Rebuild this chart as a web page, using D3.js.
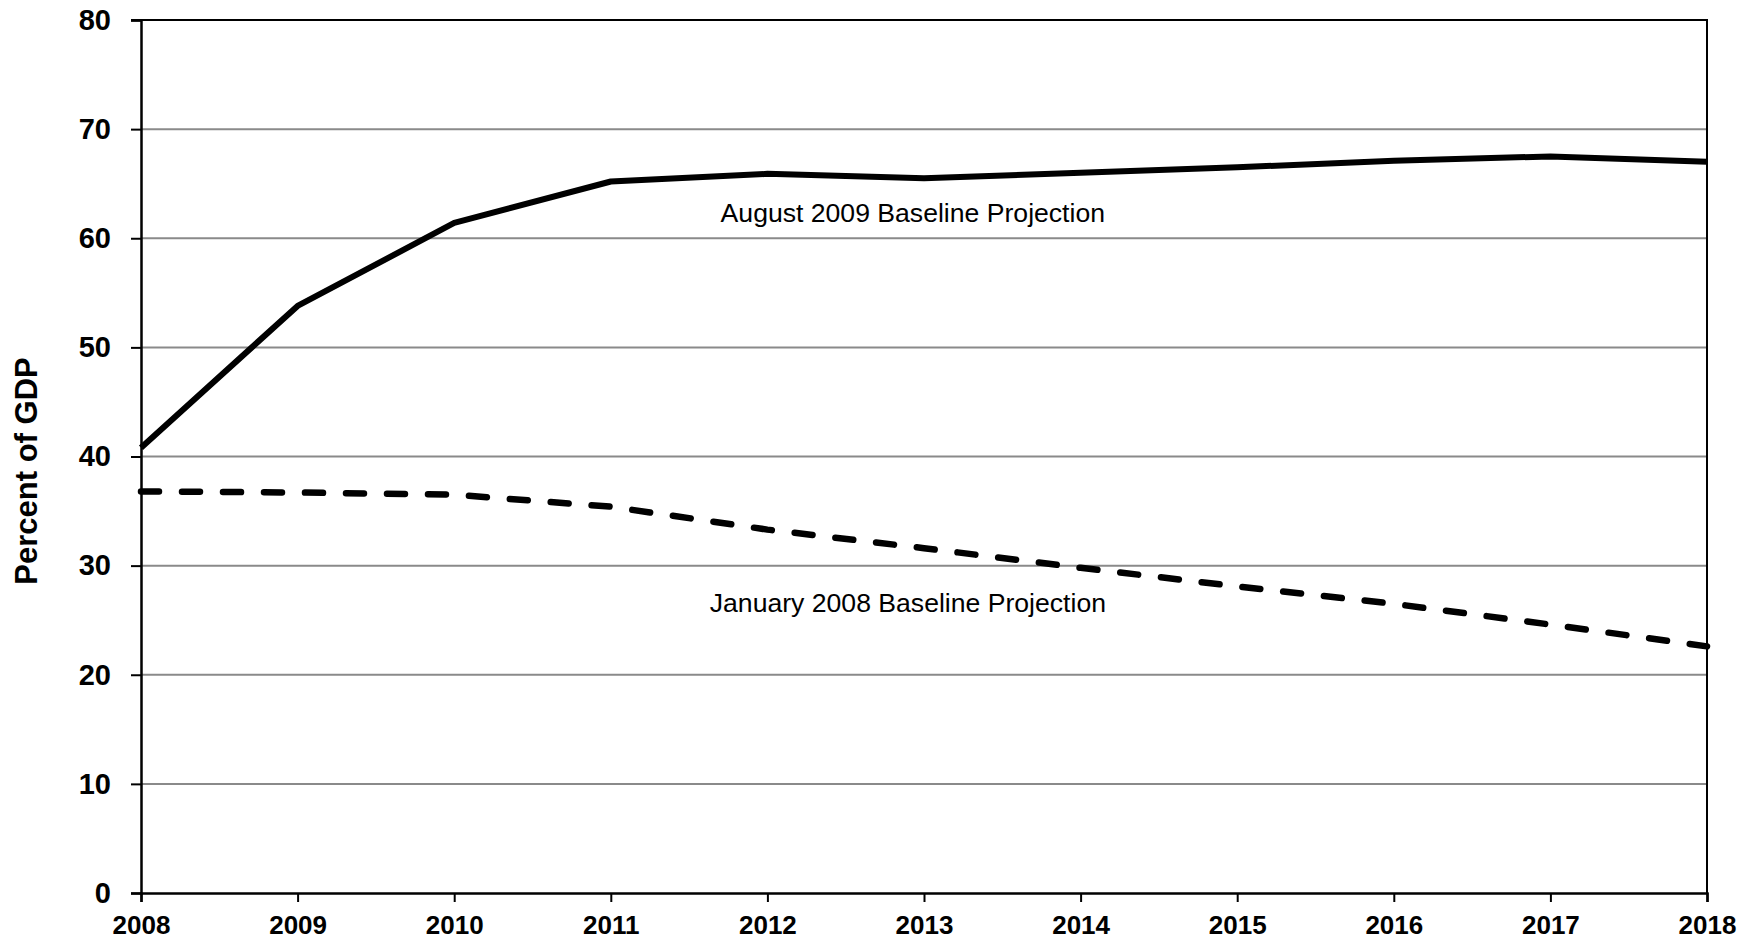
<!DOCTYPE html>
<html>
<head>
<meta charset="utf-8">
<script src="https://cdn.jsdelivr.net/npm/d3@7"></script>
<style>
  html, body { margin: 0; padding: 0; background: #fff; }
  svg { display: block; }
</style>
</head>
<body>
<svg id="chart" width="1754" height="941"></svg>
<script>
const years = [2008, 2009, 2010, 2011, 2012, 2013, 2014, 2015, 2016, 2017, 2018];
const august2009 = [40.8, 53.8, 61.4, 65.2, 65.9, 65.5, 66.0, 66.5, 67.1, 67.5, 67.0];
const january2008 = [36.8, 36.7, 36.5, 35.4, 33.3, 31.6, 29.8, 28.1, 26.5, 24.6, 22.6];
const yTicks = [0, 10, 20, 30, 40, 50, 60, 70, 80];
const yTitle = "Percent of GDP";
const labelAugust = "August 2009 Baseline Projection";
const labelJanuary = "January 2008 Baseline Projection";

const W = 1754, H = 941;
const m = { left: 141, right: 47, top: 20, bottom: 48 };
const svg = d3.select("#chart");
const font = "'Liberation Sans', Arial, sans-serif";

const x = d3.scaleLinear().domain([2008, 2018]).range([m.left, W - m.right]);
const y = d3.scaleLinear().domain([0, 80]).range([H - m.bottom, m.top]);

// gridlines
svg.append("g").selectAll("line")
  .data(yTicks.filter(t => t > 0 && t < 80))
  .join("line")
  .attr("x1", x(2008)).attr("x2", x(2018))
  .attr("y1", d => y(d)).attr("y2", d => y(d))
  .attr("stroke", "#8a8a8a").attr("stroke-width", 2);

// frame (top and right)
svg.append("path")
  .attr("d", `M${x(2008) - 10},${y(80)}H${x(2018)}V${y(0)}`)
  .attr("fill", "none").attr("stroke", "#000").attr("stroke-width", 2);

// y axis
const yAxis = d3.axisLeft(y).tickValues(yTicks).tickSize(10).tickPadding(20).tickFormat(d3.format("d"));
const gy = svg.append("g").attr("transform", `translate(${x(2008)},0)`).call(yAxis);
gy.select(".domain").attr("stroke", "#000").attr("stroke-width", 2.5);
gy.selectAll(".tick line").attr("stroke", "#000").attr("stroke-width", 2);
gy.selectAll("text").attr("font-family", font).attr("font-weight", "bold")
  .attr("font-size", 29).attr("fill", "#000");

// x axis
const xAxis = d3.axisBottom(x).tickValues(years).tickSize(9).tickPadding(14).tickFormat(d3.format("d"));
const gx = svg.append("g").attr("transform", `translate(0,${y(0)})`).call(xAxis);
gx.select(".domain").attr("stroke", "#000").attr("stroke-width", 2.5);
gx.selectAll(".tick line").attr("stroke", "#000").attr("stroke-width", 2);
gx.selectAll("text").attr("font-family", font).attr("font-weight", "bold")
  .attr("font-size", 26).attr("fill", "#000");

// y title
svg.append("text")
  .attr("transform", `translate(37,471) rotate(-90)`)
  .attr("text-anchor", "middle")
  .attr("font-family", font).attr("font-weight", "bold").attr("font-size", 31)
  .text(yTitle);

const line = d3.line().x((d, i) => x(years[i])).y(d => y(d));

svg.append("path").datum(january2008)
  .attr("d", line).attr("fill", "none").attr("stroke", "#000")
  .attr("stroke-width", 6.5).attr("stroke-linecap", "round")
  .attr("stroke-dasharray", "18,23");

svg.append("path").datum(august2009)
  .attr("d", line).attr("fill", "none").attr("stroke", "#000")
  .attr("stroke-width", 6).attr("stroke-linejoin", "round");

svg.append("text")
  .attr("x", 1105).attr("y", 222)
  .attr("text-anchor", "end")
  .attr("font-family", font).attr("font-size", 26.6)
  .text(labelAugust);

svg.append("text")
  .attr("x", 1106).attr("y", 612)
  .attr("text-anchor", "end")
  .attr("font-family", font).attr("font-size", 26.6)
  .text(labelJanuary);
</script>
</body>
</html>
